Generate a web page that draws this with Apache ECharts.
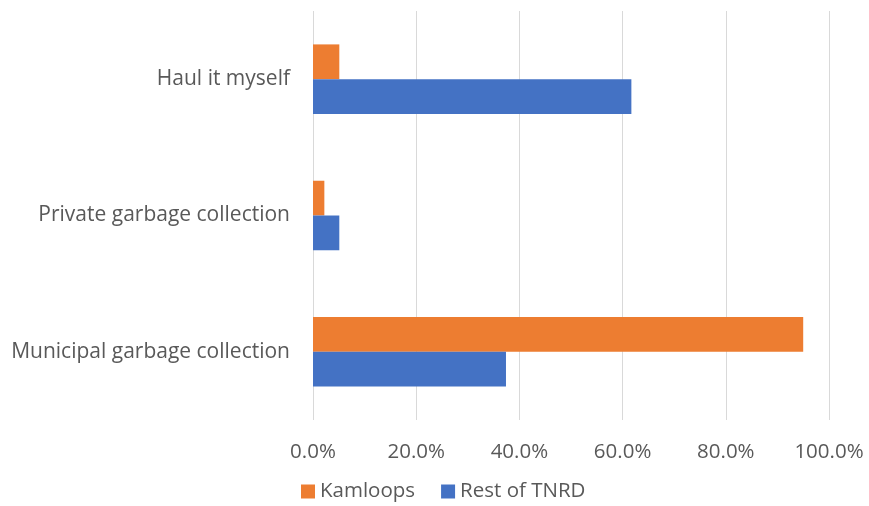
<!DOCTYPE html>
<html>
<head>
<meta charset="utf-8">
<script src="https://cdn.jsdelivr.net/npm/echarts@6/dist/echarts.min.js"></script>
<style>
  html, body { margin: 0; padding: 0; background: #fff; }
  #container { width: 869px; height: 506px; }
</style>
</head>
<body>
<div id="container"></div>
<script>
var categories = ['Municipal garbage collection', 'Private garbage collection', 'Haul it myself'];
var kamloops = [0.95, 0.022, 0.051];
var restOfTnrd = [0.374, 0.051, 0.617];
var xTicks = [0, 0.2, 0.4, 0.6, 0.8, 1.0];

var myChart = echarts.init(document.getElementById('container'));
var font = 'Open Sans';
var option = {
    animation: false,
    textStyle: { fontFamily: font },
    grid: { left: 313, right: 40, top: 11, bottom: 86 },
    legend: {
        data: ['Kamloops', 'Rest of TNRD'],
        top: 476,
        left: 296,
        icon: 'rect',
        itemWidth: 14,
        itemHeight: 14,
        itemGap: 26,
        itemTextGap: 6,
        textStyle: { fontSize: 20.5, color: '#595959', fontFamily: font }
    },
    xAxis: {
        type: 'value',
        min: xTicks[0],
        max: xTicks[xTicks.length - 1],
        interval: 0.2,
        axisLine: { show: false },
        axisTick: { show: false },
        splitLine: { lineStyle: { color: '#d9d9d9', width: 1 } },
        axisLabel: {
            margin: 22,
            fontSize: 20.5,
            color: '#595959',
            fontFamily: font,
            formatter: function (v) { return (v * 100).toFixed(1) + '%'; }
        }
    },
    yAxis: {
        type: 'category',
        data: categories,
        axisLine: { show: false },
        axisTick: { show: false },
        axisLabel: { margin: 23, fontSize: 21, color: '#595959', fontFamily: font }
    },
    series: [
        {
            name: 'Kamloops',
            type: 'bar',
            data: kamloops,
            barGap: '0%',
            barCategoryGap: '49%',
            itemStyle: { color: '#ed7d31' }
        },
        {
            name: 'Rest of TNRD',
            type: 'bar',
            data: restOfTnrd,
            barGap: '0%',
            barCategoryGap: '49%',
            itemStyle: { color: '#4472c4' }
        }
    ]
};
myChart.setOption(option);
</script>
</body>
</html>
